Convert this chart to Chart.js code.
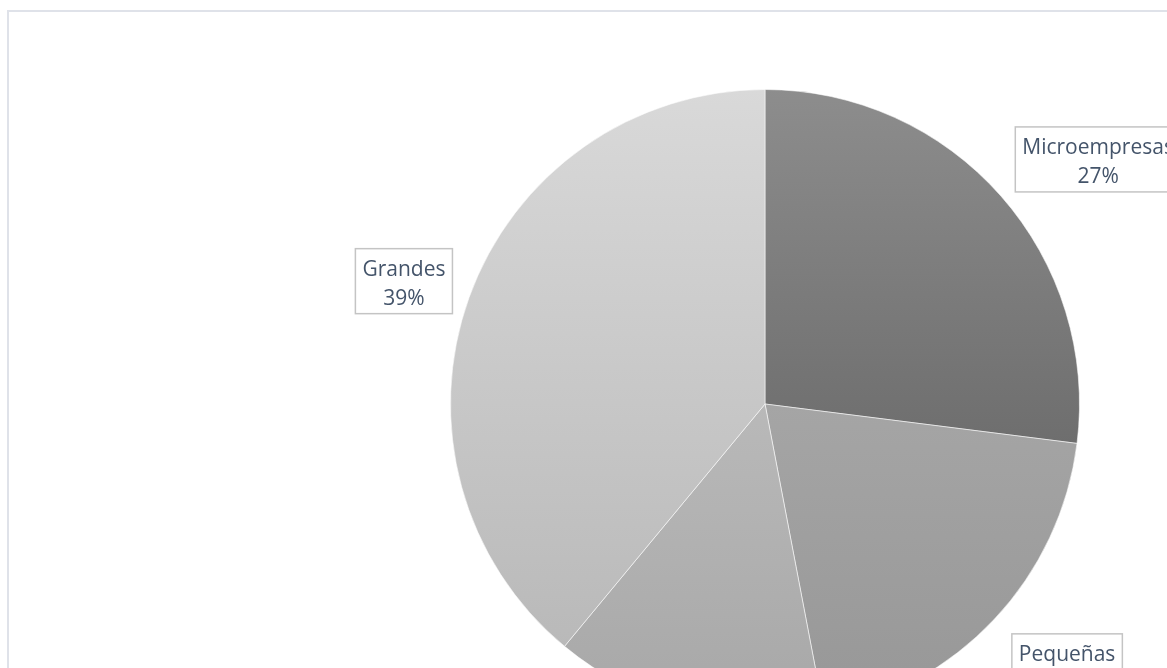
<!DOCTYPE html>
<html lang="es">
<head>
    <meta charset="UTF-8">
    <title>Empresas por tamaño</title>
    <script src="https://cdn.jsdelivr.net/npm/chart.js"></script>
    <style>
        html, body {
            margin: 0;
            padding: 0;
            width: 1167px;
            height: 668px;
            overflow: hidden;
            background: #ffffff;
        }
        .frame {
            position: absolute;
            left: 7px;
            top: 10px;
            width: 1200px;
            height: 700px;
            border: 2px solid #dfe2e9;
        }
        .chart-box {
            position: absolute;
            left: 0;
            top: 0;
            width: 1167px;
            height: 740px;
        }
    </style>
</head>
<body>
    <div class="frame"></div>
    <div class="chart-box">
        <canvas id="pieChart" width="1167" height="740"></canvas>
    </div>

    <script>
        // categories and their share (%)
        const categories = ['Microempresas', 'Pequeñas', 'Medianas', 'Grandes'];
        const shares = [27, 20, 14, 39];

        // gradient stops per slice (top, bottom)
        const sliceTop = ['#8d8d8d', '#a5a5a5', '#b9b9b9', '#d9d9d9'];
        const sliceBottom = ['#6e6e6e', '#979797', '#a7a7a7', '#b9b9b9'];

        // label nudges relative to a point just outside each slice
        const labelNudge = [[50, 5], [27, 4], [0, 0], [-6, 5]];

        const total = shares.reduce((a, b) => a + b, 0);

        // vertical extent of a slice, used for its gradient
        function sliceSpan(i, cy, r) {
            let before = 0;
            for (let k = 0; k < i; k++) before += shares[k];
            const a0 = -Math.PI / 2 + 2 * Math.PI * before / total;
            const a1 = a0 + 2 * Math.PI * shares[i] / total;
            let ys = [cy, cy + r * Math.sin(a0), cy + r * Math.sin(a1)];
            [-Math.PI / 2, Math.PI / 2, 3 * Math.PI / 2].forEach(a => {
                if (a >= a0 && a <= a1) ys.push(cy + r * Math.sin(a));
            });
            return [Math.min(...ys), Math.max(...ys)];
        }

        function sliceFill(context) {
            const chart = context.chart;
            const area = chart.chartArea;
            if (!area) return sliceTop[context.dataIndex];
            const i = context.dataIndex;
            const cy = (area.top + area.bottom) / 2;
            const r = Math.min(area.width, area.height) / 2;
            const [y0, y1] = sliceSpan(i, cy, r);
            const g = chart.ctx.createLinearGradient(0, y0, 0, y1);
            g.addColorStop(0, sliceTop[i]);
            g.addColorStop(1, sliceBottom[i]);
            return g;
        }

        // boxed data labels: name on the first line, percent below
        const boxLabels = {
            id: 'boxLabels',
            afterDatasetsDraw(chart) {
                const ctx = chart.ctx;
                const meta = chart.getDatasetMeta(0);
                ctx.save();
                ctx.font = '21px "Open Sans"';
                ctx.textAlign = 'center';
                ctx.textBaseline = 'alphabetic';
                meta.data.forEach((arc, i) => {
                    const p = arc.getProps(['x', 'y', 'startAngle', 'endAngle', 'outerRadius'], true);
                    const mid = (p.startAngle + p.endAngle) / 2;
                    const d = p.outerRadius * 1.2;
                    const cx = p.x + Math.cos(mid) * d + labelNudge[i][0];
                    const cy = p.y + Math.sin(mid) * d + labelNudge[i][1];
                    const name = categories[i];
                    const pct = Math.round(shares[i] / total * 100) + '%';
                    const w = Math.max(ctx.measureText(name).width, ctx.measureText(pct).width) + 14;
                    const h = 65;
                    ctx.fillStyle = '#ffffff';
                    ctx.fillRect(cx - w / 2, cy - h / 2, w, h);
                    ctx.strokeStyle = '#c4c4c4';
                    ctx.lineWidth = 1.5;
                    ctx.strokeRect(cx - w / 2, cy - h / 2, w, h);
                    ctx.fillStyle = '#44546a';
                    ctx.fillText(name, cx, cy - 5);
                    ctx.fillText(pct, cx, cy + 24);
                });
                ctx.restore();
            }
        };

        const ctx = document.getElementById('pieChart').getContext('2d');
        const pieChart = new Chart(ctx, {
            type: 'pie',
            data: {
                labels: categories,
                datasets: [{
                    data: shares,
                    backgroundColor: sliceFill,
                    borderColor: 'rgba(255,255,255,0.55)',
                    borderWidth: 1
                }]
            },
            options: {
                responsive: false,
                animation: false,
                layout: {
                    padding: { left: 450, right: 87, top: 89, bottom: 21 }
                },
                plugins: {
                    legend: { display: false },
                    tooltip: { enabled: false }
                }
            },
            plugins: [boxLabels]
        });
    </script>
</body>
</html>
